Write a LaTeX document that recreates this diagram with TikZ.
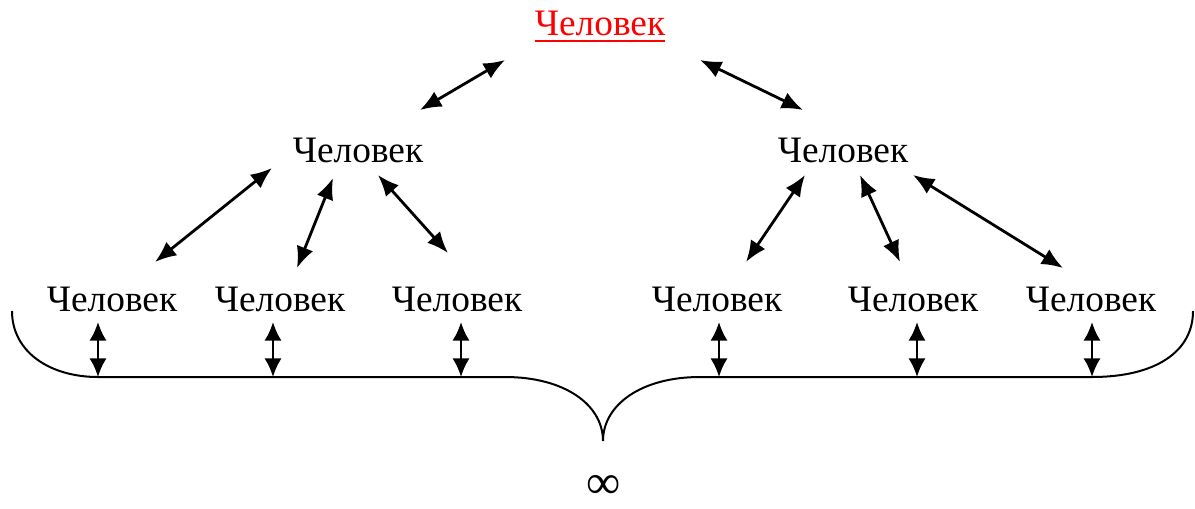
\documentclass[tikz,border=0pt]{standalone}
\usepackage{fontspec}
\setmainfont{Liberation Serif}
\usetikzlibrary{arrows.meta}

\tikzset{
  man/.style={anchor=base, inner sep=0pt, font=\fontsize{28}{34}\selectfont},
  link/.style={{Latex[length=16pt,width=13pt]}-{Latex[length=16pt,width=13pt]}, line width=2.1pt},
  vlink/.style={{Latex[length=14pt,width=13pt]}-{Latex[length=14pt,width=13pt]}, line width=2pt}
}

\begin{document}
\begin{tikzpicture}
  [x=0.75pt, y=-0.75pt]
  \useasboundingbox (0,0) rectangle (1195,508);
  \node[man, text=red] (top) at (600,35) {Человек};
  \draw[red, line width=1.8pt] ([yshift=-4.5pt]top.base west) -- ([yshift=-4.5pt]top.base east);
  \node[man] (midL) at (358,162) {Человек};
  \node[man] (midR) at (843,162) {Человек};
  \foreach \i/\x in {1/112,2/280,3/457,4/717,5/913,6/1091}
    \node[man] (b\i) at (\x,311) {Человек};
  % top level
  \coordinate (tl) at (505,60);  \coordinate (ml) at (420,110);
  \coordinate (tr) at (700,60);  \coordinate (mr) at (803,110);
  \draw[link] (tl) -- (ml);
  \draw[link] (tr) -- (mr);
  % middle level
  \coordinate (l1) at (272,168); \coordinate (e1) at (155,262);
  \coordinate (l2) at (333,178); \coordinate (e2) at (297,268);
  \coordinate (l3) at (378,175); \coordinate (e3) at (448,253);
  \coordinate (r1) at (805,175); \coordinate (e4) at (746,262);
  \coordinate (r2) at (860,175); \coordinate (e5) at (900,262);
  \coordinate (r3) at (913,175); \coordinate (e6) at (1063,268);
  \foreach \a/\b in {l1/e1,l2/e2,l3/e3,r1/e4,r2/e5,r3/e6}
    \draw[link] (\a) -- (\b);
  % brace
  \coordinate (v1) at (98,377);
  \coordinate (v6) at (1092,377);
  \coordinate (tip) at (603,441);
  \draw[line width=1.5pt] (12,311) .. controls (12,352) and (50,377) .. (v1)
    -- (505,377) .. controls (565,377) and (603,405) .. (tip)
    .. controls (603,405) and (641,377) .. (700,377)
    -- (v6) .. controls (1155,377) and (1193,352) .. (1193,311);
  \foreach \i/\x in {1/98,2/273,3/461,4/719,5/917,6/1092} {
    \coordinate (v\i) at (\x,377);
    \draw[vlink] (v\i) -- (v\i |- 0,322);
  }
  \node[inner sep=0pt, font=\fontsize{36}{42}\selectfont] (inf) at (604,487) {∞};
\end{tikzpicture}
\end{document}
